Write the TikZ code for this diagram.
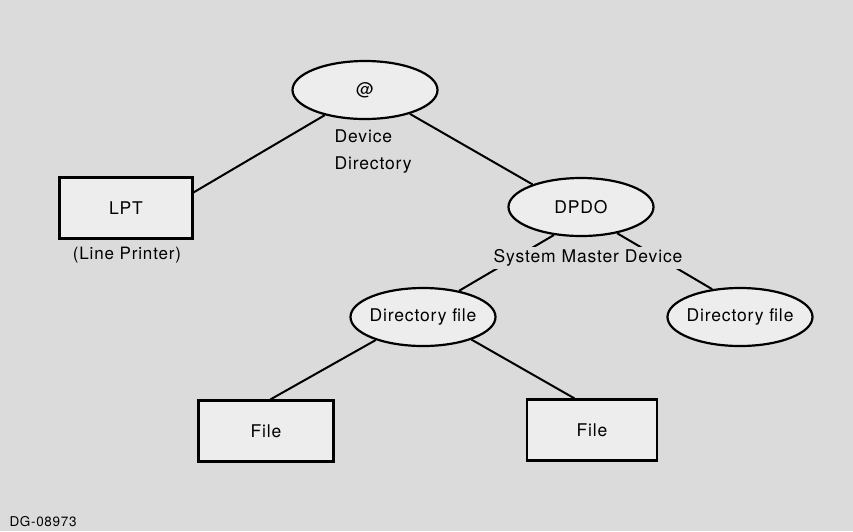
\documentclass[tikz,border=0pt]{standalone}
\usepackage{fontspec}
\setmainfont{TeX Gyre Heros}[LetterSpace=5]
\usetikzlibrary{shapes.geometric}
\definecolor{paper}{gray}{0.86}
\definecolor{lgray}{gray}{0.93}
\tikzset{oval/.style = {draw, ellipse, fill=lgray, line width=2.2pt,
                        minimum width=145pt, minimum height=58pt,
                        inner xsep=-3pt, inner ysep=0pt,
                        font=\fontsize{17.5}{20}\selectfont}}
\tikzset{filebox/.style = {draw, rectangle, fill=lgray, line width=2.2pt,
                           minimum width=133pt, minimum height=61pt,
                           font=\fontsize{17.5}{20}\selectfont}}
\tikzset{conn/.style = {line width=2pt}}

\begin{document}
\begin{tikzpicture}[x=1pt, y=-1pt]
      \fill [paper] (0, 0) rectangle (853, 531);

      \node [oval] (at) at (365, 90) {@};
      \node [filebox] (lpt) at (126, 208) {LPT};
      \node [oval] (dpd) at (581, 207) {DPDO};
      \node [oval] (dirl) at (423, 317) {Directory file};
      \node [oval] (dirr) at (740, 317) {Directory file};
      \node [filebox, minimum width=135pt] (filel) at (266, 431) {File};
      \node [filebox, minimum width=130pt] (filer) at (592, 430) {File};

      \draw [conn] (at.212) -- (lpt.13);
      \draw [conn] (at.332) -- (dpd.155);
      \draw [conn] (dpd.226) -- (dirl.36);
      \draw [conn] (dpd.324) -- (dirr.135);
      \draw [conn] (dirl.206) -- (filel.82);
      \draw [conn] (dirl.335) -- (filer.119);

      \node [anchor=west, align=left, font=\fontsize{17.5}{27}\selectfont]
            (devdir) at (331, 152) {Device\\Directory};
      \node [font=\fontsize{17}{18}\selectfont] (lptname) at (127, 255) {(Line Printer)};
      \node [fill=paper, inner sep=3pt, font=\fontsize{17.5}{20}\selectfont]
            (master) at (588, 258) {System Master Device};
      \node [anchor=west, font=\fontsize{13.5}{15}\selectfont] (tag) at (6, 522) {DG-08973};
    \end{tikzpicture}
\end{document}
